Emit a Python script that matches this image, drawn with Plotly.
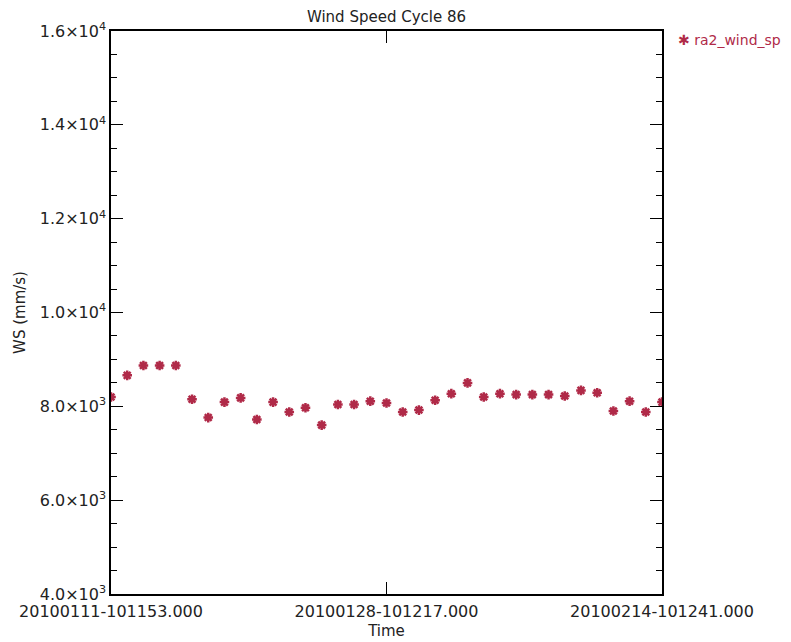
import plotly.graph_objects as go

# daily samples, cycle 86 (days since 2010-01-11 10:11:53)
days = list(range(35))
wind_speed = [8200, 8660, 8870, 8870, 8870, 8150, 7760, 8090, 8180, 7720,
              8090, 7880, 7970, 7600, 8040, 8040, 8110, 8070, 7880, 7920,
              8130, 8270, 8500, 8200, 8270, 8250, 8250, 8250, 8220, 8340,
              8290, 7900, 8110, 7880, 8090]

x_tickvals = [0, 17, 34]
x_ticktext = ["20100111-101153.000", "20100128-101217.000", "20100214-101241.000"]
y_tickvals = [4000, 6000, 8000, 10000, 12000, 14000, 16000]
y_ticktext = ["4.0\u00d710<sup>3</sup>", "6.0\u00d710<sup>3</sup>", "8.0\u00d710<sup>3</sup>",
              "1.0\u00d710<sup>4</sup>", "1.2\u00d710<sup>4</sup>", "1.4\u00d710<sup>4</sup>",
              "1.6\u00d710<sup>4</sup>"]

red = "#b02a48"

fig = go.Figure()
fig.add_trace(go.Scatter(x=days, y=wind_speed, mode="markers", name="ra2_wind_sp",
                         showlegend=False,
                         marker=dict(symbol="asterisk-open", size=8, color=red,
                                     line=dict(color=red, width=2.5))))

# the page body has an 8px margin, so the figure is a bit smaller than the window
W, H = 783, 634
fig.update_layout(
  width=W, height=H,
  margin=dict(l=103, r=129, t=23, b=48, autoexpand=False),
  paper_bgcolor="white", plot_bgcolor="white",
  font=dict(family="DejaVu Sans", size=14, color="#222"),
  title=dict(text="Wind Speed Cycle 86", x=(103 + 551 / 2) / W, xanchor="center",
             y=1 - 9 / H, yanchor="middle", font=dict(size=15, color="#222")),
  annotations=[dict(text="\u2731 ra2_wind_sp", xref="paper", yref="paper",
                    x=(676 - 111) / 551, y=1 - 9 / 563, xanchor="left", yanchor="middle",
                    showarrow=False, font=dict(color=red, size=14))],
  xaxis=dict(range=[0, 34], tickvals=x_tickvals, ticktext=x_ticktext, automargin=False,
             ticks="inside", ticklen=12, tickcolor="black", tickwidth=1,
             showline=True, linecolor="black", linewidth=1.5, mirror="ticks",
             showgrid=False, zeroline=False, tickfont=dict(size=16), ticklabelstandoff=2,
             title=dict(text="Time", standoff=6, font=dict(size=15))),
  yaxis=dict(range=[4000, 16000], tickvals=y_tickvals, ticktext=y_ticktext, automargin=False,
             ticks="inside", ticklen=12, tickcolor="black", tickwidth=1,
             minor=dict(tickvals=[v for v in range(4000, 16001, 500) if v % 2000],
                        ticks="inside", ticklen=6, tickcolor="black"),
             showline=True, linecolor="black", linewidth=1.5, mirror="ticks",
             showgrid=False, zeroline=False, tickfont=dict(size=16),
             title=dict(text="WS (mm/s)", standoff=10, font=dict(size=15))),
)

fig.write_html("out.html")
